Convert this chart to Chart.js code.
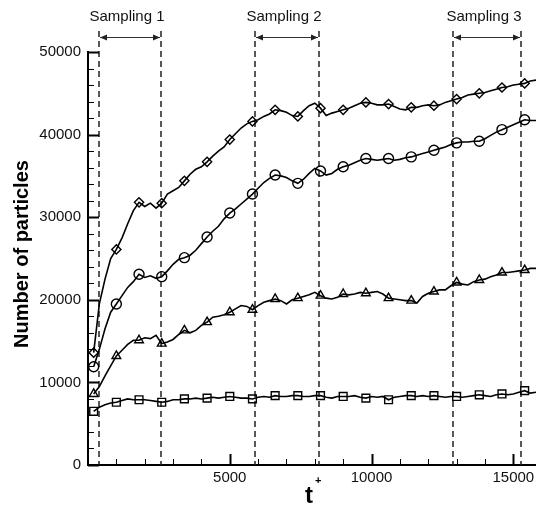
<!DOCTYPE html>
<html>
<head>
<meta charset="utf-8">
<script src="https://cdn.jsdelivr.net/npm/chart.js@4.4.0/dist/chart.umd.min.js"></script>
<style>
  html, body { margin: 0; padding: 0; background: #fff; }
</style>
</head>
<body>
<canvas id="particleChart" width="536" height="506"></canvas>
<script>
// time grid (t+), one value every 200, markers every 4th point
const tStart = 200, tStep = 200, markerEvery = 4;

const diamondVals = [13600, 19500,22500,25000,26100, 27500,29200,30800,31800, 31300,31700,31100,31700,
  32800,33200,33600,34400, 35200,35800,36100,36700, 37400,38000,38500,39400, 40100,40800,41300,41600,
  41800,42200,42500,43000, 42900,42700,42300,42200, 42900,43500,43800,43200, 42300,42600,42800,43000,
  43200,43500,43800,43900, 43800,43600,43600,43700, 43400,43100,43000,43300, 43300,43500,43600,43500,
  43600,43900,44100,44300, 44500,44800,44900,45000, 45100,45300,45500,45700, 45800,46000,46100,46200,
  46500,46600];
const circleVals = [11900, 14000,16500,18500,19500, 20500,21500,22200,23100, 22700,22900,22600,22800,
  23500,24300,24900,25100, 25400,26000,26800,27600, 28300,28900,29800,30500, 31000,31600,32200,32800,
  33500,34200,34700,35100, 35000,34800,34400,34100, 34600,35300,35900,35600, 35100,35300,35800,36100,
  36300,36600,36900,37100, 37000,36900,37000,37100, 36900,37000,37200,37300, 37500,37700,37900,38100,
  38300,38500,38800,39000, 39100,39100,39200,39200, 39500,39900,40300,40600, 40900,41200,41500,41800,
  41700,41700];
const triangleVals = [8600, 9500,10800,12000,13200, 13900,14600,15100,15100, 15400,15300,15700,14700,
  14900,15200,15800,16300, 16000,16300,16900,17300, 17900,18000,18200,18500, 18900,19300,19200,18800,
  19300,19700,19900,20100, 19900,19500,20000,20200, 20400,20600,20900,20500, 20200,20100,20300,20700,
  20600,20700,20900,20800, 20900,21000,20700,20200, 20100,20000,19900,19900, 19600,20400,20800,21000,
  21200,21200,21700,22100, 21900,21800,22200,22400, 22500,22800,23000,23300, 23300,23400,23500,23600,
  23800,23800];
const squareVals = [6500, 7000,7300,7500,7600, 7800,8000,7900,7900, 7900,7800,7700,7600,
  7700,7900,7900,8000, 8000,8100,8000,8100, 8200,8100,8200,8300, 8200,8100,8100,8000,
  8200,8300,8200,8400, 8300,8300,8400,8400, 8300,8300,8400,8400, 8200,8100,8300,8300,
  8300,8400,8200,8100, 8300,8200,8300,7900, 8200,8300,8400,8400, 8300,8400,8300,8400,
  8300,8200,8300,8300, 8200,8300,8400,8500, 8400,8300,8500,8600, 8500,8600,8800,9000,
  8700,8800];

const xTickLabels = [5000, 10000, 15000];
const yTickLabels = [0, 10000, 20000, 30000, 40000, 50000];
const samplingWindows = [[390, 2570], [5880, 8130], [12890, 15280]];
const samplingLabels = ['Sampling 1', 'Sampling 2', 'Sampling 3'];

const FONT = '"Liberation Sans", Arial, sans-serif';

function toPoints(vals) {
  return vals.map((v, i) => ({ x: tStart + i * tStep, y: v }));
}

function series(vals, style, r) {
  return {
    data: toPoints(vals),
    borderColor: '#000',
    borderWidth: 1.6,
    tension: 0,
    pointStyle: style,
    pointRadius: ctx => (ctx.dataIndex % markerEvery === 0 ? r : 0),
    pointHoverRadius: 0,
    pointBorderColor: '#000',
    pointBorderWidth: 1.4,
    pointBackgroundColor: 'rgba(255,255,255,0)'
  };
}

const decor = {
  id: 'decor',
  beforeDatasetsDraw(chart) {
    const { ctx, chartArea } = chart;
    const x = chart.scales.x;
    ctx.save();
    // dashed sampling bounds
    ctx.strokeStyle = '#222';
    ctx.lineWidth = 1.5;
    ctx.setLineDash([6, 4]);
    samplingWindows.forEach(w => {
      w.forEach(t => {
        const px = Math.round(x.getPixelForValue(t));
        ctx.beginPath();
        ctx.moveTo(px, 31);
        ctx.lineTo(px, chartArea.bottom);
        ctx.stroke();
      });
    });
    ctx.setLineDash([]);
    // arrows + labels
    samplingWindows.forEach((w, i) => {
      const a = Math.round(x.getPixelForValue(w[0])) + 1;
      const b = Math.round(x.getPixelForValue(w[1])) - 1;
      const yy = 37.5;
      ctx.strokeStyle = '#333';
      ctx.fillStyle = '#222';
      ctx.lineWidth = 1;
      ctx.beginPath();
      ctx.moveTo(a, yy);
      ctx.lineTo(b, yy);
      ctx.stroke();
      ctx.beginPath();
      ctx.moveTo(a, yy); ctx.lineTo(a + 7, yy - 3); ctx.lineTo(a + 7, yy + 3); ctx.closePath();
      ctx.moveTo(b, yy); ctx.lineTo(b - 7, yy - 3); ctx.lineTo(b - 7, yy + 3); ctx.closePath();
      ctx.fill();
      ctx.font = '15px ' + FONT;
      ctx.textAlign = 'center';
      ctx.textBaseline = 'middle';
      ctx.fillStyle = '#111';
      ctx.fillText(samplingLabels[i], (a + b) / 2 - 3, 17);
    });
    ctx.restore();
  },
  afterDraw(chart) {
    const { ctx, chartArea } = chart;
    const x = chart.scales.x, y = chart.scales.y;
    ctx.save();
    ctx.strokeStyle = '#000';
    // inward ticks on y
    for (let v = 0; v <= 50000; v += 2000) {
      const py = Math.round(y.getPixelForValue(v)) + 0.5;
      const major = v % 10000 === 0;
      ctx.lineWidth = major ? 2 : 1;
      ctx.beginPath();
      ctx.moveTo(chartArea.left, py);
      ctx.lineTo(chartArea.left + (major ? 11 : 6), py);
      ctx.stroke();
    }
    // inward ticks on x
    for (let v = 1000; v <= 15800; v += 1000) {
      const px = Math.round(x.getPixelForValue(v)) + 0.5;
      const major = v % 5000 === 0;
      ctx.lineWidth = major ? 2 : 1;
      ctx.beginPath();
      ctx.moveTo(px, chartArea.bottom);
      ctx.lineTo(px, chartArea.bottom - (major ? 11 : 6));
      ctx.stroke();
    }
    // x tick labels
    ctx.fillStyle = '#111';
    ctx.font = '15px ' + FONT;
    ctx.textAlign = 'center';
    ctx.textBaseline = 'middle';
    xTickLabels.forEach(v => {
      ctx.fillText(String(v), x.getPixelForValue(v), chartArea.bottom + 13);
    });
    // axis titles
    ctx.fillStyle = '#000';
    ctx.save();
    ctx.translate(22, 254);
    ctx.rotate(-Math.PI / 2);
    ctx.font = 'bold 20px ' + FONT;
    ctx.textAlign = 'center';
    ctx.textBaseline = 'middle';
    ctx.fillText('Number of particles', 0, 0);
    ctx.restore();
    ctx.textAlign = 'left';
    ctx.textBaseline = 'alphabetic';
    ctx.font = 'bold 24px ' + FONT;
    ctx.fillText('t', 305, 503);
    ctx.font = 'bold 11px ' + FONT;
    ctx.fillText('+', 315, 484);
    ctx.restore();
  }
};

const chart = new Chart(document.getElementById('particleChart'), {
  type: 'line',
  data: {
    datasets: [
      series(diamondVals, 'rectRot', 4.6),
      series(circleVals, 'circle', 5),
      series(triangleVals, 'triangle', 5),
      series(squareVals, 'rect', 5.5)
    ]
  },
  options: {
    responsive: false,
    animation: false,
    layout: { autoPadding: false, padding: { top: 52, right: 0, left: 0, bottom: 0 } },
    plugins: { legend: { display: false }, tooltip: { enabled: false } },
    scales: {
      x: {
        type: 'linear',
        min: 0,
        max: 15800,
        grid: { display: false, drawTicks: false },
        border: { color: '#000', width: 2 },
        ticks: { display: false, stepSize: 5000 },
        afterFit: s => { s.height = 41; }
      },
      y: {
        min: 0,
        max: 50000,
        grid: { display: false, drawTicks: false },
        border: { color: '#000', width: 2 },
        ticks: {
          stepSize: 10000,
          padding: 7,
          color: '#111',
          font: { family: FONT, size: 15 },
          callback: v => (yTickLabels.includes(v) ? String(v) : '')
        },
        afterFit: s => { s.width = 88; }
      }
    }
  },
  plugins: [decor]
});
</script>
</body>
</html>
